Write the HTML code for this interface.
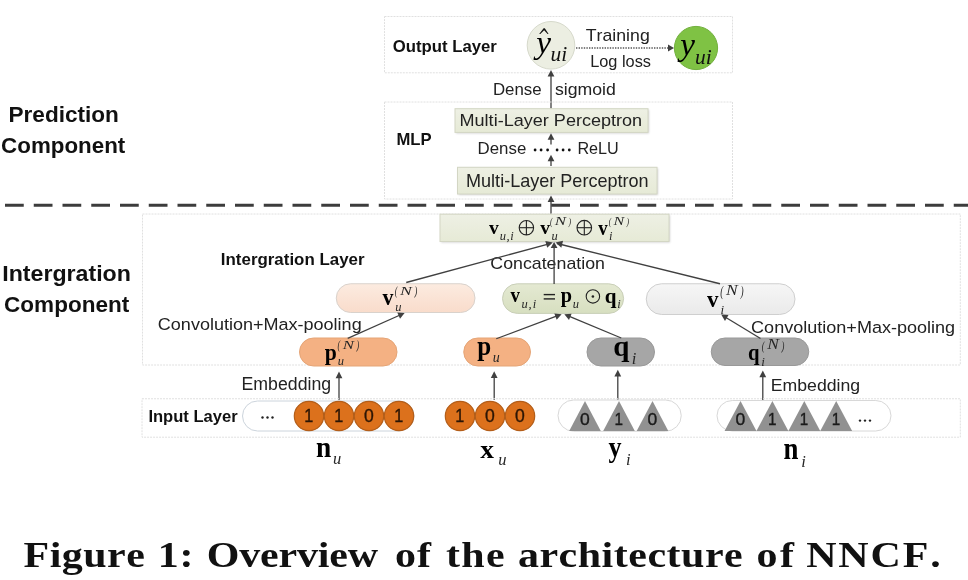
<!DOCTYPE html>
<html><head><meta charset="utf-8"><style>
html,body{margin:0;padding:0;background:#fff;}
body{width:968px;height:580px;overflow:hidden;font-family:"Liberation Sans",sans-serif;}
svg{display:block;filter:blur(0.35px);}
text{font-kerning:none;}
</style></head><body>
<svg width="968" height="580" viewBox="0 0 968 580">
<defs><linearGradient id="g0" x1="0" y1="0" x2="0" y2="1"><stop offset="0" stop-color="#eef0e4"/><stop offset="1" stop-color="#e6ead6"/></linearGradient>
<linearGradient id="g1" x1="0" y1="0" x2="0" y2="1"><stop offset="0" stop-color="#eef0e4"/><stop offset="1" stop-color="#e6ead6"/></linearGradient>
<linearGradient id="g2" x1="0" y1="0" x2="0" y2="1"><stop offset="0" stop-color="#eef0e4"/><stop offset="1" stop-color="#e6ead6"/></linearGradient>
<linearGradient id="g3" x1="0" y1="0" x2="0" y2="1"><stop offset="0" stop-color="#fcebe0"/><stop offset="1" stop-color="#f9dccb"/></linearGradient>
<linearGradient id="g4" x1="0" y1="0" x2="0" y2="1"><stop offset="0" stop-color="#e4e9d2"/><stop offset="1" stop-color="#d7dfc0"/></linearGradient>
<linearGradient id="g5" x1="0" y1="0" x2="0" y2="1"><stop offset="0" stop-color="#f6f6f6"/><stop offset="1" stop-color="#eaeaea"/></linearGradient><filter id="sh" x="-5%" y="-20%" width="110%" height="140%"><feGaussianBlur stdDeviation="0.8"/></filter></defs>
<rect width="968" height="580" fill="#fff"/>
<rect x="384.5" y="16.5" width="348.0" height="56.3" fill="none" stroke="#e0e0e0" stroke-width="1" stroke-dasharray="2 1"/>
<text x="392.71" y="51.60" font-family='"Liberation Sans", sans-serif' font-size="16.7" font-weight="bold" font-style="normal" fill="#111" textLength="104.14" lengthAdjust="spacingAndGlyphs" >Output Layer</text>
<circle cx="551" cy="45.3" r="23.8" fill="#eceee2" stroke="#d6d9cb" stroke-width="1"/>
<circle cx="696" cy="48" r="21.6" fill="#7fc244" stroke="#72b03e" stroke-width="1"/>
<text x="536.18" y="53.00" font-family='"Liberation Serif", serif' font-size="31" font-weight="normal" font-style="italic" fill="#000" textLength="14.80" lengthAdjust="spacingAndGlyphs" >y</text>
<path d="M539.2,33.9 L543.6,28.3 L544.8,28.3 L548.6,33.9 L547.6,33.9 L544.1,30.2 L540.3,33.9 Z" fill="#111"/>
<text x="550.43" y="61.00" font-family='"Liberation Serif", serif' font-size="21" font-weight="normal" font-style="italic" fill="#111" textLength="16.72" lengthAdjust="spacingAndGlyphs" >ui</text>
<text x="680.27" y="55.30" font-family='"Liberation Serif", serif' font-size="31.5" font-weight="normal" font-style="italic" fill="#000" textLength="14.72" lengthAdjust="spacingAndGlyphs" >y</text>
<text x="694.93" y="63.50" font-family='"Liberation Serif", serif' font-size="21" font-weight="normal" font-style="italic" fill="#111" textLength="16.72" lengthAdjust="spacingAndGlyphs" >ui</text>
<line x1="576" y1="48" x2="669" y2="48" stroke="#555" stroke-width="1.4" stroke-dasharray="1.4 1.2"/>
<path d="M674.00,48.00 L668.00,51.50 L668.00,44.50 Z" fill="#404040"/>
<text x="585.80" y="41.40" font-family='"Liberation Sans", sans-serif' font-size="17" font-weight="normal" font-style="normal" fill="#222" textLength="63.94" lengthAdjust="spacingAndGlyphs" >Training</text>
<text x="590.16" y="66.90" font-family='"Liberation Sans", sans-serif' font-size="17.4" font-weight="normal" font-style="normal" fill="#222" textLength="60.83" lengthAdjust="spacingAndGlyphs" >Log loss</text>
<line x1="551.00" y1="108.50" x2="551.00" y2="75.50" stroke="#404040" stroke-width="1.3"/>
<path d="M551.00,70.00 L554.40,76.50 L547.60,76.50 Z" fill="#404040"/>
<text x="492.92" y="94.60" font-family='"Liberation Sans", sans-serif' font-size="15.7" font-weight="normal" font-style="normal" fill="#222" textLength="48.73" lengthAdjust="spacingAndGlyphs" >Dense</text>
<text x="554.91" y="94.60" font-family='"Liberation Sans", sans-serif' font-size="15.7" font-weight="normal" font-style="normal" fill="#222" textLength="60.93" lengthAdjust="spacingAndGlyphs" >sigmoid</text>
<rect x="384.5" y="102" width="348.0" height="97" fill="none" stroke="#e0e0e0" stroke-width="1" stroke-dasharray="2 1"/>
<text x="396.38" y="144.50" font-family='"Liberation Sans", sans-serif' font-size="16.7" font-weight="bold" font-style="normal" fill="#111" textLength="35.18" lengthAdjust="spacingAndGlyphs" >MLP</text>
<rect x="456" y="109.7" width="193" height="23.700000000000003" fill="#000" opacity="0.18" filter="url(#sh)"/>
<rect x="455" y="108.7" width="193" height="23.700000000000003" fill="url(#g0)" stroke="#d3d6c4" stroke-width="1"/>
<text x="459.52" y="126.00" font-family='"Liberation Sans", sans-serif' font-size="17.4" font-weight="normal" font-style="normal" fill="#222" textLength="182.65" lengthAdjust="spacingAndGlyphs" >Multi-Layer Perceptron</text>
<line x1="551.00" y1="144.40" x2="551.00" y2="138.70" stroke="#404040" stroke-width="1.3"/>
<path d="M551.00,133.20 L554.40,139.70 L547.60,139.70 Z" fill="#404040"/>
<text x="477.62" y="154.00" font-family='"Liberation Sans", sans-serif' font-size="16" font-weight="normal" font-style="normal" fill="#222" textLength="48.63" lengthAdjust="spacingAndGlyphs" >Dense</text>
<circle cx="535.1" cy="150" r="1.4" fill="#111"/>
<circle cx="541.1" cy="150" r="1.4" fill="#111"/>
<circle cx="547.6" cy="150" r="1.4" fill="#111"/>
<circle cx="557.1" cy="150" r="1.4" fill="#111"/>
<circle cx="563.1" cy="150" r="1.4" fill="#111"/>
<circle cx="569.3" cy="150" r="1.4" fill="#111"/>
<text x="577.42" y="154.00" font-family='"Liberation Sans", sans-serif' font-size="16" font-weight="normal" font-style="normal" fill="#222" textLength="41.32" lengthAdjust="spacingAndGlyphs" >ReLU</text>
<line x1="551.00" y1="166.00" x2="551.00" y2="160.20" stroke="#404040" stroke-width="1.3"/>
<path d="M551.00,154.70 L554.40,161.20 L547.60,161.20 Z" fill="#404040"/>
<rect x="458.5" y="168.3" width="199.5" height="26.69999999999999" fill="#000" opacity="0.18" filter="url(#sh)"/>
<rect x="457.5" y="167.3" width="199.5" height="26.69999999999999" fill="url(#g1)" stroke="#d3d6c4" stroke-width="1"/>
<text x="466.02" y="187.00" font-family='"Liberation Sans", sans-serif' font-size="19" font-weight="normal" font-style="normal" fill="#222" textLength="182.65" lengthAdjust="spacingAndGlyphs" >Multi-Layer Perceptron</text>
<line x1="551.00" y1="214.00" x2="551.00" y2="201.00" stroke="#404040" stroke-width="1.3"/>
<path d="M551.00,195.50 L554.40,202.00 L547.60,202.00 Z" fill="#404040"/>
<line x1="5" y1="205.25" x2="968" y2="205.25" stroke="#3c3c3c" stroke-width="3.2" stroke-dasharray="18.75 10"/>
<text x="8.49" y="121.80" font-family='"Liberation Sans", sans-serif' font-size="22.7" font-weight="bold" font-style="normal" fill="#111" textLength="110.41" lengthAdjust="spacingAndGlyphs" >Prediction</text>
<text x="1.08" y="152.60" font-family='"Liberation Sans", sans-serif' font-size="22.7" font-weight="bold" font-style="normal" fill="#111" textLength="124.19" lengthAdjust="spacingAndGlyphs" >Component</text>
<rect x="142.5" y="214" width="817.8" height="151" fill="none" stroke="#e0e0e0" stroke-width="1" stroke-dasharray="2 1"/>
<text x="2.20" y="281.20" font-family='"Liberation Sans", sans-serif' font-size="22.8" font-weight="bold" font-style="normal" fill="#111" textLength="128.74" lengthAdjust="spacingAndGlyphs" >Intergration</text>
<text x="4.08" y="311.50" font-family='"Liberation Sans", sans-serif' font-size="22.8" font-weight="bold" font-style="normal" fill="#111" textLength="125.20" lengthAdjust="spacingAndGlyphs" >Component</text>
<text x="220.87" y="265.00" font-family='"Liberation Sans", sans-serif' font-size="16.4" font-weight="bold" font-style="normal" fill="#111" textLength="143.64" lengthAdjust="spacingAndGlyphs" >Intergration Layer</text>
<rect x="441" y="215.2" width="229" height="27.30000000000001" fill="#000" opacity="0.18" filter="url(#sh)"/>
<rect x="440" y="214.2" width="229" height="27.30000000000001" fill="url(#g2)" stroke="#d3d6c4" stroke-width="1"/>
<text x="489.10" y="234.11" font-family='"Liberation Serif", serif' font-size="19.84" font-weight="bold" font-style="normal" fill="#000" textLength="9.80" lengthAdjust="spacingAndGlyphs" >v</text>
<text x="499.68" y="239.80" font-family='"Liberation Serif", serif' font-size="12.5" font-weight="normal" font-style="italic" fill="#262626" textLength="14.00" lengthAdjust="spacing" >u,i</text>
<circle cx="526.4" cy="227.7" r="7.2" fill="none" stroke="#222" stroke-width="1.1"/>
<line x1="519.1999999999999" y1="227.7" x2="533.6" y2="227.7" stroke="#222" stroke-width="1.1"/>
<line x1="526.4" y1="220.5" x2="526.4" y2="234.89999999999998" stroke="#222" stroke-width="1.1"/>
<text x="540.20" y="234.11" font-family='"Liberation Serif", serif' font-size="19.84" font-weight="bold" font-style="normal" fill="#000" textLength="9.80" lengthAdjust="spacingAndGlyphs" >v</text>
<text x="549.93" y="225.40" font-family='"Liberation Serif", serif' font-size="11.25" font-weight="normal" font-style="italic" fill="#262626" textLength="2.57" lengthAdjust="spacingAndGlyphs" >(</text>
<text x="568.57" y="225.40" font-family='"Liberation Serif", serif' font-size="11.25" font-weight="normal" font-style="italic" fill="#262626" textLength="2.57" lengthAdjust="spacingAndGlyphs" >)</text>
<text x="554.82" y="225.18" font-family='"Liberation Serif", serif' font-size="12.37" font-weight="normal" font-style="italic" fill="#262626" textLength="11.33" lengthAdjust="spacingAndGlyphs" >N</text>
<text x="551.39" y="240.00" font-family='"Liberation Serif", serif' font-size="12.5" font-weight="normal" font-style="italic" fill="#262626" >u</text>
<circle cx="584.3" cy="227.7" r="7.3" fill="none" stroke="#222" stroke-width="1.1"/>
<line x1="577.0" y1="227.7" x2="591.5999999999999" y2="227.7" stroke="#222" stroke-width="1.1"/>
<line x1="584.3" y1="220.39999999999998" x2="584.3" y2="235.0" stroke="#222" stroke-width="1.1"/>
<text x="598.20" y="234.79" font-family='"Liberation Serif", serif' font-size="21.33" font-weight="bold" font-style="normal" fill="#000" textLength="9.40" lengthAdjust="spacingAndGlyphs" >v</text>
<text x="608.73" y="225.13" font-family='"Liberation Serif", serif' font-size="11.14" font-weight="normal" font-style="italic" fill="#262626" textLength="2.55" lengthAdjust="spacingAndGlyphs" >(</text>
<text x="626.59" y="225.13" font-family='"Liberation Serif", serif' font-size="11.14" font-weight="normal" font-style="italic" fill="#262626" textLength="2.55" lengthAdjust="spacingAndGlyphs" >)</text>
<text x="613.57" y="224.91" font-family='"Liberation Serif", serif' font-size="12.25" font-weight="normal" font-style="italic" fill="#262626" textLength="10.67" lengthAdjust="spacingAndGlyphs" >N</text>
<text x="608.95" y="239.80" font-family='"Liberation Serif", serif' font-size="12.5" font-weight="normal" font-style="italic" fill="#262626" >i</text>
<text x="490.35" y="269.25" font-family='"Liberation Sans", sans-serif' font-size="17" font-weight="normal" font-style="normal" fill="#222" textLength="114.56" lengthAdjust="spacingAndGlyphs" >Concatenation</text>
<rect x="336.25" y="283.75" width="138.75" height="28.75" rx="14.375" ry="14.375" fill="url(#g3)" stroke="#d9d2cc" stroke-width="1"/>
<rect x="502.5" y="283.8" width="121.10000000000002" height="29.599999999999966" rx="14.799999999999983" ry="14.799999999999983" fill="url(#g4)" stroke="#c9cfb8" stroke-width="1"/>
<rect x="646.25" y="283.75" width="148.75" height="30.75" rx="15.375" ry="15.375" fill="url(#g5)" stroke="#cfcfcf" stroke-width="1"/>
<text x="382.40" y="305.47" font-family='"Liberation Serif", serif' font-size="23.04" font-weight="bold" font-style="normal" fill="#000" textLength="10.90" lengthAdjust="spacingAndGlyphs" >v</text>
<text x="394.70" y="294.89" font-family='"Liberation Serif", serif' font-size="12.24" font-weight="normal" font-style="italic" fill="#262626" textLength="2.80" lengthAdjust="spacingAndGlyphs" >(</text>
<text x="414.46" y="294.89" font-family='"Liberation Serif", serif' font-size="12.24" font-weight="normal" font-style="italic" fill="#262626" textLength="2.80" lengthAdjust="spacingAndGlyphs" >)</text>
<text x="400.03" y="294.65" font-family='"Liberation Serif", serif' font-size="13.46" font-weight="normal" font-style="italic" fill="#262626" textLength="11.84" lengthAdjust="spacingAndGlyphs" >N</text>
<text x="395.34" y="311.30" font-family='"Liberation Serif", serif' font-size="12.5" font-weight="normal" font-style="italic" fill="#262626" >u</text>
<text x="510.50" y="301.70" font-family='"Liberation Serif", serif' font-size="20.05" font-weight="bold" font-style="normal" fill="#000" textLength="9.40" lengthAdjust="spacingAndGlyphs" >v</text>
<text x="521.38" y="307.60" font-family='"Liberation Serif", serif' font-size="12.5" font-weight="normal" font-style="italic" fill="#262626" textLength="14.80" lengthAdjust="spacing" >u,i</text>
<rect x="543.7" y="293.9" width="11.3" height="1.4" fill="#222"/><rect x="543.7" y="298.2" width="11.3" height="1.4" fill="#222"/>
<text x="560.74" y="302.49" font-family='"Liberation Serif", serif' font-size="21.2" font-weight="bold" font-style="normal" fill="#000" textLength="11.28" lengthAdjust="spacingAndGlyphs" >p</text>
<text x="572.84" y="307.60" font-family='"Liberation Serif", serif' font-size="12.5" font-weight="normal" font-style="italic" fill="#262626" >u</text>
<circle cx="592.9" cy="296.45" r="6.7" fill="none" stroke="#222" stroke-width="1.1"/>
<circle cx="592.9" cy="296.45" r="1.3" fill="#222"/>
<text x="604.73" y="302.55" font-family='"Liberation Serif", serif' font-size="20.9" font-weight="bold" font-style="normal" fill="#000" textLength="11.76" lengthAdjust="spacingAndGlyphs" >q</text>
<text x="617.20" y="307.60" font-family='"Liberation Serif", serif' font-size="12.5" font-weight="normal" font-style="italic" fill="#262626" >i</text>
<text x="707.10" y="307.07" font-family='"Liberation Serif", serif' font-size="23.89" font-weight="bold" font-style="normal" fill="#000" textLength="11.50" lengthAdjust="spacingAndGlyphs" >v</text>
<text x="720.17" y="295.69" font-family='"Liberation Serif", serif' font-size="13.67" font-weight="normal" font-style="italic" fill="#262626" textLength="3.13" lengthAdjust="spacingAndGlyphs" >(</text>
<text x="740.56" y="295.69" font-family='"Liberation Serif", serif' font-size="13.67" font-weight="normal" font-style="italic" fill="#262626" textLength="3.13" lengthAdjust="spacingAndGlyphs" >)</text>
<text x="726.10" y="295.41" font-family='"Liberation Serif", serif' font-size="15.04" font-weight="normal" font-style="italic" fill="#262626" textLength="11.68" lengthAdjust="spacingAndGlyphs" >N</text>
<text x="720.38" y="313.50" font-family='"Liberation Serif", serif' font-size="13" font-weight="normal" font-style="italic" fill="#262626" >i</text>
<text x="157.84" y="330.00" font-family='"Liberation Sans", sans-serif' font-size="17.4" font-weight="normal" font-style="normal" fill="#222" textLength="203.83" lengthAdjust="spacingAndGlyphs" >Convolution+Max-pooling</text>
<text x="751.08" y="332.50" font-family='"Liberation Sans", sans-serif' font-size="17.4" font-weight="normal" font-style="normal" fill="#222" textLength="204.08" lengthAdjust="spacingAndGlyphs" >Convolution+Max-pooling</text>
<rect x="299.5" y="338" width="97.5" height="28" rx="14.0" ry="14.0" fill="#f4b183" stroke="#e5a577" stroke-width="1"/>
<rect x="463.75" y="338" width="66.75" height="28" rx="14.0" ry="14.0" fill="#f4b183" stroke="#e5a577" stroke-width="1"/>
<rect x="587" y="338" width="67.5" height="28" rx="14.0" ry="14.0" fill="#a6a6a6" stroke="#999999" stroke-width="1"/>
<rect x="711.25" y="338" width="97.5" height="27.5" rx="13.75" ry="13.75" fill="#a6a6a6" stroke="#999999" stroke-width="1"/>
<text x="324.72" y="360.08" font-family='"Liberation Serif", serif' font-size="23.1" font-weight="bold" font-style="normal" fill="#000" textLength="12.05" lengthAdjust="spacingAndGlyphs" >p</text>
<text x="337.61" y="349.26" font-family='"Liberation Serif", serif' font-size="11.91" font-weight="normal" font-style="italic" fill="#262626" textLength="2.73" lengthAdjust="spacingAndGlyphs" >(</text>
<text x="356.53" y="349.26" font-family='"Liberation Serif", serif' font-size="11.91" font-weight="normal" font-style="italic" fill="#262626" textLength="2.72" lengthAdjust="spacingAndGlyphs" >)</text>
<text x="342.79" y="349.03" font-family='"Liberation Serif", serif' font-size="13.1" font-weight="normal" font-style="italic" fill="#262626" textLength="11.24" lengthAdjust="spacingAndGlyphs" >N</text>
<text x="337.64" y="365.30" font-family='"Liberation Serif", serif' font-size="12.5" font-weight="normal" font-style="italic" fill="#262626" >u</text>
<text x="477.28" y="354.97" font-family='"Liberation Serif", serif' font-size="26.46" font-weight="bold" font-style="normal" fill="#000" textLength="13.93" lengthAdjust="spacingAndGlyphs" >p</text>
<text x="492.65" y="361.80" font-family='"Liberation Serif", serif' font-size="14" font-weight="normal" font-style="italic" fill="#262626" >u</text>
<text x="613.31" y="356.32" font-family='"Liberation Serif", serif' font-size="29.98" font-weight="bold" font-style="normal" fill="#000" textLength="16.16" lengthAdjust="spacingAndGlyphs" >q</text>
<text x="631.65" y="363.90" font-family='"Liberation Serif", serif' font-size="16.5" font-weight="normal" font-style="italic" fill="#262626" >i</text>
<text x="747.95" y="359.94" font-family='"Liberation Serif", serif' font-size="22.34" font-weight="bold" font-style="normal" fill="#000" textLength="11.54" lengthAdjust="spacingAndGlyphs" >q</text>
<text x="761.70" y="349.72" font-family='"Liberation Serif", serif' font-size="12.57" font-weight="normal" font-style="italic" fill="#262626" textLength="2.88" lengthAdjust="spacingAndGlyphs" >(</text>
<text x="781.39" y="349.72" font-family='"Liberation Serif", serif' font-size="12.57" font-weight="normal" font-style="italic" fill="#262626" textLength="2.87" lengthAdjust="spacingAndGlyphs" >)</text>
<text x="767.16" y="349.47" font-family='"Liberation Serif", serif' font-size="13.83" font-weight="normal" font-style="italic" fill="#262626" textLength="11.61" lengthAdjust="spacingAndGlyphs" >N</text>
<text x="761.33" y="366.00" font-family='"Liberation Serif", serif' font-size="13" font-weight="normal" font-style="italic" fill="#262626" >i</text>
<line x1="347.70" y1="338.30" x2="399.57" y2="315.23" stroke="#404040" stroke-width="1.3"/>
<path d="M404.60,313.00 L400.04,318.75 L397.28,312.53 Z" fill="#404040"/>
<line x1="406.25" y1="282.50" x2="550.00" y2="243.60" stroke="#404040" stroke-width="1.3"/>
<path d="M552.80,242.60 L547.18,247.86 L545.29,240.91 Z" fill="#404040"/>
<line x1="554.10" y1="284.00" x2="554.10" y2="246.00" stroke="#404040" stroke-width="1.3"/>
<path d="M554.10,242.00 L557.50,248.00 L550.70,248.00 Z" fill="#404040"/>
<line x1="720.00" y1="283.75" x2="557.00" y2="243.50" stroke="#404040" stroke-width="1.3"/>
<path d="M555.60,242.60 L563.07,240.76 L561.32,247.74 Z" fill="#404040"/>
<line x1="496.25" y1="338.75" x2="556.45" y2="316.23" stroke="#404040" stroke-width="1.3"/>
<path d="M561.60,314.30 L556.70,319.76 L554.32,313.39 Z" fill="#404040"/>
<line x1="621.25" y1="338.00" x2="569.38" y2="316.41" stroke="#404040" stroke-width="1.3"/>
<path d="M564.30,314.30 L571.61,313.66 L568.99,319.94 Z" fill="#404040"/>
<line x1="760.50" y1="338.50" x2="725.90" y2="317.46" stroke="#404040" stroke-width="1.3"/>
<path d="M721.20,314.60 L728.52,315.07 L724.99,320.88 Z" fill="#404040"/>
<line x1="339.00" y1="400.00" x2="339.00" y2="377.30" stroke="#404040" stroke-width="1.3"/>
<path d="M339.00,371.50 L342.40,378.30 L335.60,378.30 Z" fill="#404040"/>
<line x1="494.20" y1="400.00" x2="494.20" y2="377.00" stroke="#404040" stroke-width="1.3"/>
<path d="M494.20,371.20 L497.60,378.00 L490.80,378.00 Z" fill="#404040"/>
<line x1="617.80" y1="400.00" x2="617.80" y2="375.60" stroke="#404040" stroke-width="1.3"/>
<path d="M617.80,369.80 L621.20,376.60 L614.40,376.60 Z" fill="#404040"/>
<line x1="762.80" y1="400.00" x2="762.80" y2="376.30" stroke="#404040" stroke-width="1.3"/>
<path d="M762.80,370.50 L766.20,377.30 L759.40,377.30 Z" fill="#404040"/>
<text x="241.55" y="390.00" font-family='"Liberation Sans", sans-serif' font-size="18" font-weight="normal" font-style="normal" fill="#222" textLength="89.59" lengthAdjust="spacingAndGlyphs" >Embedding</text>
<text x="770.80" y="390.50" font-family='"Liberation Sans", sans-serif' font-size="17.4" font-weight="normal" font-style="normal" fill="#222" textLength="89.34" lengthAdjust="spacingAndGlyphs" >Embedding</text>
<rect x="142" y="398.75" width="818.3" height="38.44999999999999" fill="none" stroke="#e0e0e0" stroke-width="1" stroke-dasharray="2 1"/>
<text x="148.39" y="422.00" font-family='"Liberation Sans", sans-serif' font-size="17.4" font-weight="bold" font-style="normal" fill="#111" textLength="89.36" lengthAdjust="spacingAndGlyphs" >Input Layer</text>
<rect x="242.5" y="401" width="171.5" height="30" rx="15.0" ry="15.0" fill="#ffffff" stroke="#ccd4dc" stroke-width="1"/>
<circle cx="262.5" cy="417.5" r="1.2" fill="#222"/>
<circle cx="267.5" cy="417.5" r="1.2" fill="#222"/>
<circle cx="272.5" cy="417.5" r="1.2" fill="#222"/>
<circle cx="309" cy="416" r="14.7" fill="#dc711c" stroke="#b35e1a" stroke-width="1.2"/>
<circle cx="339" cy="416" r="14.7" fill="#dc711c" stroke="#b35e1a" stroke-width="1.2"/>
<circle cx="369" cy="416" r="14.7" fill="#dc711c" stroke="#b35e1a" stroke-width="1.2"/>
<circle cx="399" cy="416" r="14.7" fill="#dc711c" stroke="#b35e1a" stroke-width="1.2"/>
<text x="304.26" y="422.20" font-family='"Liberation Sans", sans-serif' font-size="17.5" font-weight="normal" font-style="normal" fill="#2a1505" textLength="9.03" lengthAdjust="spacingAndGlyphs" stroke="#2a1505" stroke-width="0.35">1</text>
<text x="334.26" y="422.20" font-family='"Liberation Sans", sans-serif' font-size="17.5" font-weight="normal" font-style="normal" fill="#2a1505" textLength="9.03" lengthAdjust="spacingAndGlyphs" stroke="#2a1505" stroke-width="0.35">1</text>
<text x="364.11" y="422.20" font-family='"Liberation Sans", sans-serif' font-size="17.5" font-weight="normal" font-style="normal" fill="#2a1505" textLength="9.77" lengthAdjust="spacingAndGlyphs" stroke="#2a1505" stroke-width="0.35">0</text>
<text x="394.26" y="422.20" font-family='"Liberation Sans", sans-serif' font-size="17.5" font-weight="normal" font-style="normal" fill="#2a1505" textLength="9.03" lengthAdjust="spacingAndGlyphs" stroke="#2a1505" stroke-width="0.35">1</text>
<circle cx="460" cy="416" r="14.7" fill="#dc711c" stroke="#b35e1a" stroke-width="1.2"/>
<circle cx="490" cy="416" r="14.7" fill="#dc711c" stroke="#b35e1a" stroke-width="1.2"/>
<circle cx="520" cy="416" r="14.7" fill="#dc711c" stroke="#b35e1a" stroke-width="1.2"/>
<text x="455.26" y="422.20" font-family='"Liberation Sans", sans-serif' font-size="17.5" font-weight="normal" font-style="normal" fill="#2a1505" textLength="9.03" lengthAdjust="spacingAndGlyphs" stroke="#2a1505" stroke-width="0.35">1</text>
<text x="485.11" y="422.20" font-family='"Liberation Sans", sans-serif' font-size="17.5" font-weight="normal" font-style="normal" fill="#2a1505" textLength="9.77" lengthAdjust="spacingAndGlyphs" stroke="#2a1505" stroke-width="0.35">0</text>
<text x="515.11" y="422.20" font-family='"Liberation Sans", sans-serif' font-size="17.5" font-weight="normal" font-style="normal" fill="#2a1505" textLength="9.77" lengthAdjust="spacingAndGlyphs" stroke="#2a1505" stroke-width="0.35">0</text>
<rect x="558" y="400" width="123.25" height="31.25" rx="15.625" ry="15.625" fill="#ffffff" stroke="#d8d8d8" stroke-width="1"/>
<path d="M585,401.1 L600.8,431 L569.2,431 Z" fill="#919191"/>
<text x="580.11" y="425.00" font-family='"Liberation Sans", sans-serif' font-size="16.5" font-weight="normal" font-style="normal" fill="#1a1a1a" textLength="9.77" lengthAdjust="spacingAndGlyphs" stroke="#1a1a1a" stroke-width="0.35">0</text>
<path d="M619,401.1 L634.8,431 L603.2,431 Z" fill="#919191"/>
<text x="614.53" y="425.00" font-family='"Liberation Sans", sans-serif' font-size="16.5" font-weight="normal" font-style="normal" fill="#1a1a1a" textLength="8.51" lengthAdjust="spacingAndGlyphs" stroke="#1a1a1a" stroke-width="0.35">1</text>
<path d="M652.5,401.1 L668.3,431 L636.7,431 Z" fill="#919191"/>
<text x="647.61" y="425.00" font-family='"Liberation Sans", sans-serif' font-size="16.5" font-weight="normal" font-style="normal" fill="#1a1a1a" textLength="9.77" lengthAdjust="spacingAndGlyphs" stroke="#1a1a1a" stroke-width="0.35">0</text>
<rect x="717" y="400.5" width="174" height="30.5" rx="15.25" ry="15.25" fill="#ffffff" stroke="#d8d8d8" stroke-width="1"/>
<path d="M740.5,401.1 L756.45,431 L724.55,431 Z" fill="#919191"/>
<text x="735.61" y="425.00" font-family='"Liberation Sans", sans-serif' font-size="16.5" font-weight="normal" font-style="normal" fill="#1a1a1a" textLength="9.77" lengthAdjust="spacingAndGlyphs" stroke="#1a1a1a" stroke-width="0.35">0</text>
<path d="M772.4,401.1 L788.35,431 L756.4499999999999,431 Z" fill="#919191"/>
<text x="767.93" y="425.00" font-family='"Liberation Sans", sans-serif' font-size="16.5" font-weight="normal" font-style="normal" fill="#1a1a1a" textLength="8.51" lengthAdjust="spacingAndGlyphs" stroke="#1a1a1a" stroke-width="0.35">1</text>
<path d="M804.3,401.1 L820.25,431 L788.3499999999999,431 Z" fill="#919191"/>
<text x="799.83" y="425.00" font-family='"Liberation Sans", sans-serif' font-size="16.5" font-weight="normal" font-style="normal" fill="#1a1a1a" textLength="8.51" lengthAdjust="spacingAndGlyphs" stroke="#1a1a1a" stroke-width="0.35">1</text>
<path d="M836.2,401.1 L852.1500000000001,431 L820.25,431 Z" fill="#919191"/>
<text x="831.73" y="425.00" font-family='"Liberation Sans", sans-serif' font-size="16.5" font-weight="normal" font-style="normal" fill="#1a1a1a" textLength="8.51" lengthAdjust="spacingAndGlyphs" stroke="#1a1a1a" stroke-width="0.35">1</text>
<circle cx="860" cy="420.6" r="1.2" fill="#222"/>
<circle cx="865" cy="420.6" r="1.2" fill="#222"/>
<circle cx="870" cy="420.6" r="1.2" fill="#222"/>
<text x="315.96" y="456.50" font-family='"Liberation Serif", serif' font-size="29.71" font-weight="bold" font-style="normal" fill="#000" textLength="15.25" lengthAdjust="spacingAndGlyphs" >n</text>
<text x="332.91" y="464.40" font-family='"Liberation Serif", serif' font-size="16.5" font-weight="normal" font-style="italic" fill="#262626" >u</text>
<text x="480.39" y="458.00" font-family='"Liberation Serif", serif' font-size="26.14" font-weight="bold" font-style="normal" fill="#000" textLength="13.76" lengthAdjust="spacingAndGlyphs" >x</text>
<text x="498.26" y="465.00" font-family='"Liberation Serif", serif' font-size="16.5" font-weight="normal" font-style="italic" fill="#262626" >u</text>
<text x="608.50" y="457.35" font-family='"Liberation Serif", serif' font-size="29.64" font-weight="bold" font-style="normal" fill="#000" textLength="13.01" lengthAdjust="spacingAndGlyphs" >y</text>
<text x="626.00" y="464.50" font-family='"Liberation Serif", serif' font-size="16.5" font-weight="normal" font-style="italic" fill="#262626" >i</text>
<text x="783.38" y="458.60" font-family='"Liberation Serif", serif' font-size="30.99" font-weight="bold" font-style="normal" fill="#000" textLength="14.93" lengthAdjust="spacingAndGlyphs" >n</text>
<text x="801.25" y="466.50" font-family='"Liberation Serif", serif' font-size="16.5" font-weight="normal" font-style="italic" fill="#262626" >i</text>
<text transform="translate(23.58,566.50) scale(1.15,1)" font-family='"Liberation Serif", serif' font-size="36.5" font-weight="bold" font-style="normal" fill="#111" textLength="105.48" lengthAdjust="spacing">Figure</text>
<text transform="translate(157.84,566.50) scale(1.15,1)" font-family='"Liberation Serif", serif' font-size="36.5" font-weight="bold" font-style="normal" fill="#111" textLength="30.97" lengthAdjust="spacing">1:</text>
<text transform="translate(206.65,566.50) scale(1.15,1)" font-family='"Liberation Serif", serif' font-size="36.5" font-weight="bold" font-style="normal" fill="#111" textLength="149.11" lengthAdjust="spacing">Overview</text>
<text transform="translate(395.10,566.50) scale(1.15,1)" font-family='"Liberation Serif", serif' font-size="36.5" font-weight="bold" font-style="normal" fill="#111" textLength="31.21" lengthAdjust="spacing">of</text>
<text transform="translate(446.02,566.50) scale(1.15,1)" font-family='"Liberation Serif", serif' font-size="36.5" font-weight="bold" font-style="normal" fill="#111" textLength="51.01" lengthAdjust="spacing">the</text>
<text transform="translate(517.95,566.50) scale(1.15,1)" font-family='"Liberation Serif", serif' font-size="36.5" font-weight="bold" font-style="normal" fill="#111" textLength="195.43" lengthAdjust="spacing">architecture</text>
<text transform="translate(756.60,566.50) scale(1.15,1)" font-family='"Liberation Serif", serif' font-size="36.5" font-weight="bold" font-style="normal" fill="#111" textLength="32.60" lengthAdjust="spacing">of</text>
<text transform="translate(806.20,566.50) scale(1.15,1)" font-family='"Liberation Serif", serif' font-size="36.5" font-weight="bold" font-style="normal" fill="#111" textLength="116.99" lengthAdjust="spacing">NNCF.</text>
</svg>
</body></html>
